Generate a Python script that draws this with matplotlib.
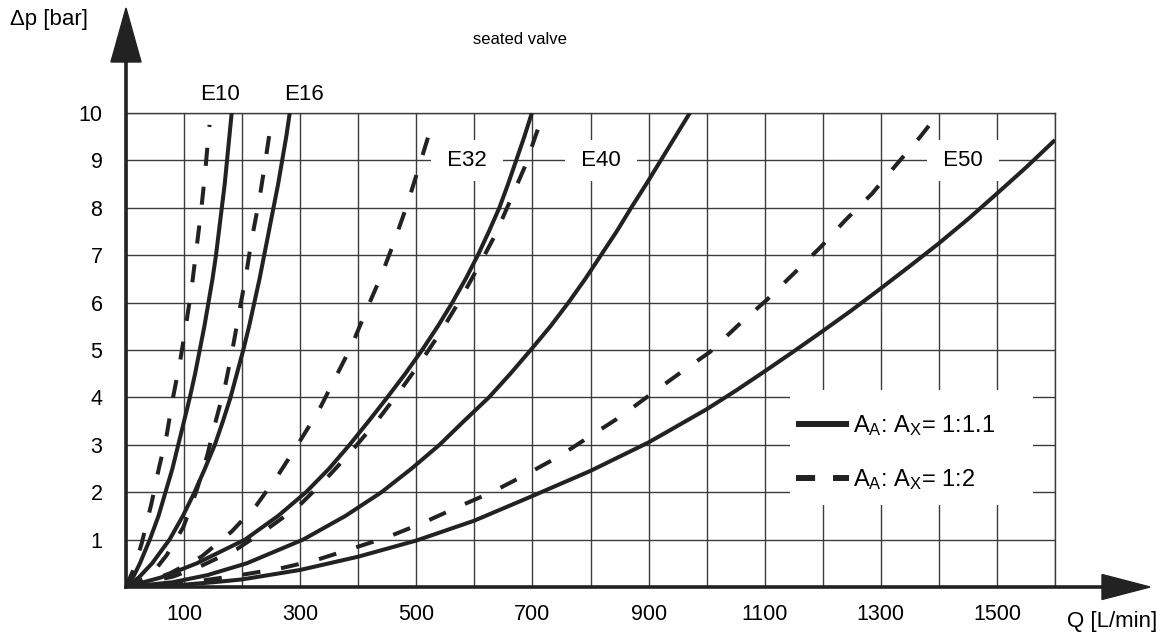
import matplotlib
matplotlib.use("Agg")
import matplotlib.pyplot as plt
from matplotlib.lines import Line2D
from matplotlib.patches import Polygon, Rectangle

plt.rcParams['font.family'] = ['Liberation Sans', 'DejaVu Sans']
plt.rcParams['mathtext.fontset'] = 'custom'
plt.rcParams['mathtext.rm'] = 'Liberation Sans'
plt.rcParams['mathtext.it'] = 'Liberation Sans'

# flow Q [L/min] vs pressure drop dp [bar]
e10_solid_q = [0, 14, 24, 41, 56, 68, 80, 90, 100, 110, 119, 127, 135, 142, 149, 155, 160, 165, 170, 174, 178, 182]
e10_solid_dp = [0, 0.25, 0.5, 1, 1.5, 2, 2.5, 3, 3.5, 4, 4.5, 5, 5.5, 6, 6.5, 7, 7.5, 8, 8.5, 9, 9.5, 10]
e10_dash_q = [0, 14, 27, 44, 56, 70, 81, 93, 103, 113, 121, 129, 136, 142, 144]
e10_dash_dp = [0, 0.4, 0.92, 1.77, 2.47, 3.2, 4.0, 4.75, 5.5, 6.3, 7.1, 7.9, 8.7, 9.54, 9.75]

e16_solid_q = [0, 22, 45, 75, 98, 118, 136, 153, 167, 180, 191, 202, 212, 221, 230, 238, 246, 254, 262, 269, 276, 282]
e16_solid_dp = [0, 0.2, 0.5, 1, 1.5, 2, 2.5, 3, 3.5, 4, 4.5, 5, 5.5, 6, 6.5, 7, 7.5, 8, 8.5, 9, 9.5, 10]
e16_dash_q = [0, 41, 70, 99, 122, 140, 155, 171, 184, 195, 207, 216, 230, 239, 250, 252]
e16_dash_dp = [0, 0.22, 0.67, 1.27, 2.05, 2.78, 3.52, 4.26, 5.05, 5.8, 6.6, 7.3, 8.2, 8.9, 9.8, 9.92]

e32_solid_q = [0, 60, 122, 205, 262, 310, 350, 385, 418, 450, 481, 510, 537, 562, 585, 606, 625, 643, 658, 672, 686, 699]
e32_solid_dp = [0, 0.2, 0.5, 1, 1.5, 2, 2.5, 3, 3.5, 4, 4.5, 5, 5.5, 6, 6.5, 7, 7.5, 8, 8.5, 9, 9.5, 10]
e32_dash_q = [0, 35, 76, 130, 182, 225, 262, 297, 331, 360, 389, 414, 439, 460, 483, 503, 524, 529]
e32_dash_dp = [0, 0.1, 0.29, 0.64, 1.17, 1.73, 2.36, 3.03, 3.7, 4.4, 5.1, 5.84, 6.55, 7.22, 8.02, 8.8, 9.64, 9.71]

e40_solid_q = [0, 80, 140, 208, 305, 378, 440, 492, 540, 582, 625, 662, 697, 731, 762, 791, 818, 845, 870, 896, 921,
               946, 971]
e40_solid_dp = [0, 0.1, 0.25, 0.5, 1, 1.5, 2, 2.5, 3, 3.5, 4, 4.5, 5, 5.5, 6, 6.5, 7, 7.5, 8, 8.5, 9, 9.5, 10]
e40_dash_q = [0, 81, 127, 191, 245, 296, 343, 385, 429, 469, 506, 542, 575, 608, 636, 661, 687, 710, 714]
e40_dash_dp = [0, 0.22, 0.43, 0.8, 1.24, 1.69, 2.26, 2.82, 3.45, 4.09, 4.72, 5.38, 6.05, 6.78, 7.43, 8.13, 8.87, 9.68, 9.82]

e50_solid_q = [0, 50, 100, 150, 200, 300, 400, 500, 600, 700, 800, 900, 1000, 1050, 1100, 1150, 1200, 1250, 1300,
               1350, 1400, 1450, 1500, 1550, 1600]
e50_solid_dp = [0, 0.015, 0.05, 0.1, 0.16, 0.36, 0.64, 0.98, 1.4, 1.92, 2.45, 3.05, 3.75, 4.14, 4.55, 4.97, 5.4, 5.84,
                6.3, 6.77, 7.25, 7.76, 8.3, 8.85, 9.43]
e50_dash_q = [0, 100, 196, 265, 328, 392, 452, 509, 572, 630, 687, 745, 798, 851, 902, 957, 1006,
              1055, 1103, 1149, 1197, 1239, 1285, 1324, 1368, 1400]
e50_dash_dp = [0, 0.08, 0.25, 0.39, 0.57, 0.82, 1.06, 1.34, 1.69, 2.0, 2.36, 2.75, 3.17, 3.59, 4.05, 4.54, 4.96,
               5.53, 6.05, 6.6, 7.18, 7.74, 8.3, 8.87, 9.5, 10.0]

size_names = ["E10", "E16", "E32", "E40", "E50"]
size_label_q = [162, 306, 588, 818, 1442]
size_label_dp = [10.38, 10.38, 9.0, 9.0, 9.0]

legend_labels = [r'A$_\mathregular{A}$: A$_\mathregular{X}$= 1:1.1', r'A$_\mathregular{A}$: A$_\mathregular{X}$= 1:2']

line_color = '#222222'
grid_color = '#3c3c3c'
W, H = 1168, 638

fig = plt.figure(figsize=(W / 100, H / 100), dpi=100)
ax = fig.add_axes([126 / W, 1 - 587 / H, 929 / W, 474 / H])

solids = [(e10_solid_q, e10_solid_dp), (e16_solid_q, e16_solid_dp), (e32_solid_q, e32_solid_dp),
          (e40_solid_q, e40_solid_dp), (e50_solid_q, e50_solid_dp)]
dashes = [(e10_dash_q, e10_dash_dp), (e16_dash_q, e16_dash_dp), (e32_dash_q, e32_dash_dp),
          (e40_dash_q, e40_dash_dp), (e50_dash_q, e50_dash_dp)]

for q, dp in solids:
    ax.plot(q, dp, color=line_color, lw=2.9, solid_capstyle='butt', solid_joinstyle='round', zorder=3)
for q, dp in dashes:
    ax.plot(q, dp, color=line_color, lw=2.9, linestyle=(0, (4.5, 5.2)), dash_capstyle='butt', zorder=3)

ax.set_xlim(0, 1600)
ax.set_ylim(0, 10)
ax.set_xticks(range(100, 1600, 200))
ax.set_xticks(range(0, 1601, 100), minor=True)
ax.set_yticks(range(1, 11))
ax.tick_params(which='both', length=0)
ax.tick_params(axis='x', pad=12, labelsize=15.5)
ax.tick_params(axis='y', pad=17, labelsize=15.5)
ax.grid(which='both', color=grid_color, lw=1.0)
ax.set_axisbelow(True)

for s in ['left', 'bottom']:
    ax.spines[s].set_visible(False)
for s in ['top', 'right']:
    ax.spines[s].set_color(grid_color)
    ax.spines[s].set_linewidth(1.0)

# axis arrows
ax.plot([0, 0], [0, 1.11], color=line_color, lw=2.6, transform=ax.transAxes, clip_on=False, zorder=4)
ax.plot([0, 1.052], [0, 0], color=line_color, lw=2.6, transform=ax.transAxes, clip_on=False, zorder=4)
ax.add_patch(Polygon([(-0.0162, 1.1076), (0.0162, 1.1076), (0, 1.2215)], closed=True,
                     color=line_color, transform=ax.transAxes, clip_on=False, zorder=4))
ax.add_patch(Polygon([(1.0506, -0.0264), (1.0506, 0.0264), (1.1023, 0)], closed=True,
                     color=line_color, transform=ax.transAxes, clip_on=False, zorder=4))

# size labels
for name, q, dp in zip(size_names, size_label_q, size_label_dp):
    if dp > 10:
        ax.text(q, dp, name, fontsize=16, ha='center', va='center', clip_on=False)
    else:
        ax.text(q, dp, ' ' + name + ' ', fontsize=16, ha='center', va='center', zorder=2,
                bbox=dict(boxstyle='square,pad=0.45', fc='white', ec='none'))

# white area behind the legend
ax.add_patch(Rectangle((1144, 1.73), 418, 2.43, fc='white', ec='none', zorder=1))
h1 = Line2D([], [], color=line_color, lw=4.3, solid_capstyle='butt')
h2 = Line2D([], [], color=line_color, lw=4.3, linestyle=(0, (3.2, 3.0)), dash_capstyle='butt')
ax.legend([h1, h2], legend_labels, loc='upper left', bbox_to_anchor=(796 / W, 1 - 413 / H),
          bbox_transform=fig.transFigure, frameon=False, fontsize=17, handlelength=2.25,
          handletextpad=0.17, borderpad=0, borderaxespad=0, labelspacing=1.25)

fig.text(10 / W, 1 - 20 / H, 'Δp [bar]', fontsize=16, ha='left', va='center')
fig.text(1067 / W, 1 - 622 / H, 'Q [L/min]', fontsize=16, ha='left', va='center')
fig.text(520 / W, 1 - 40 / H, 'seated valve', fontsize=12, ha='center', va='center')

fig.savefig('out.png', dpi=100)
